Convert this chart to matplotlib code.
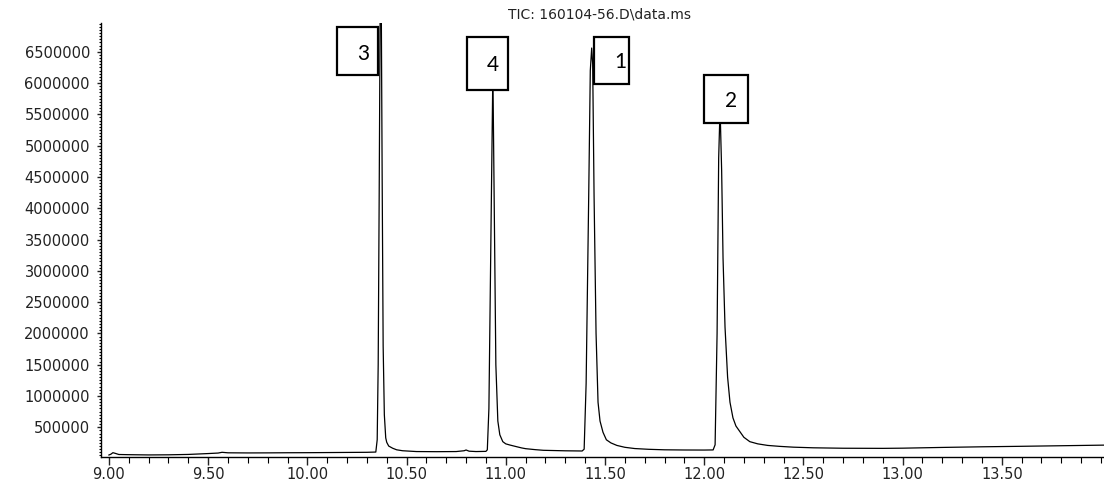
import matplotlib
matplotlib.use("Agg")
import matplotlib.pyplot as plt
from matplotlib.patches import Rectangle
from matplotlib.ticker import MultipleLocator, FixedLocator, FuncFormatter

# ---- data ----
time_min = [
    9.00, 9.01, 9.02, 9.03, 9.05, 9.10, 9.20, 9.30, 9.40, 9.50, 9.55, 9.57, 9.60,
    9.70, 9.80, 9.90, 10.00, 10.10, 10.20, 10.30, 10.345,
    10.352, 10.357, 10.362, 10.367, 10.372, 10.377, 10.382, 10.388, 10.395, 10.40,
    10.41, 10.43, 10.45, 10.48, 10.55, 10.65, 10.75, 10.79, 10.80, 10.815, 10.85,
    10.90, 10.907,
    10.915, 10.925, 10.935, 10.942, 10.95, 10.96, 10.97, 10.985, 11.00, 11.02,
    11.035, 11.054, 11.08, 11.10, 11.15, 11.19, 11.30, 11.385, 11.395,
    11.405, 11.418, 11.426, 11.433, 11.438, 11.445, 11.455, 11.465, 11.475, 11.49,
    11.507, 11.53, 11.56, 11.60, 11.65, 11.72, 11.80, 11.90, 12.00, 12.045, 12.055,
    12.065, 12.073, 12.080, 12.088, 12.095, 12.105, 12.118, 12.13, 12.145, 12.16,
    12.18, 12.20, 12.23, 12.27, 12.32, 12.38, 12.45, 12.55, 12.70, 12.90, 13.00,
    13.20, 13.40, 13.60, 13.80, 14.02,
]
tic_abundance = [
    57000, 70000, 94000, 85000, 65000, 62000, 58000, 60000, 66000, 80000, 88000, 100000, 92000,
    90000, 91000, 93000, 94000, 96000, 98000, 100000, 104000,
    300000, 1500000, 4200000, 7200000, 7600000, 4500000, 1800000, 700000, 330000, 260000,
    200000, 165000, 140000, 125000, 112000, 110000, 112000, 125000, 137000, 118000, 112000,
    115000, 140000,
    800000, 3500000, 6200000, 4000000, 1500000, 600000, 380000, 270000, 235000, 217000,
    205000, 190000, 170000, 158000, 142000, 132000, 124000, 121000, 150000,
    1200000, 4200000, 6200000, 6560000, 6300000, 4200000, 2000000, 900000, 600000, 420000,
    300000, 250000, 210000, 180000, 160000, 148000, 140000, 137000, 136000, 138000, 220000,
    2000000, 4800000, 5600000, 4600000, 3200000, 2100000, 1300000, 900000, 650000, 520000,
    430000, 340000, 270000, 235000, 210000, 195000, 182000, 172000, 165000, 163000, 166000,
    178000, 188000, 196000, 205000, 215000,
]

peak_labels = ["3", "4", "1", "2"]
title_text = "TIC: 160104-56.D\\data.ms"
y_major_ticks = [500000, 1000000, 1500000, 2000000, 2500000, 3000000, 3500000,
                 4000000, 4500000, 5000000, 5500000, 6000000, 6500000]
x_major_ticks = [9.0, 9.5, 10.0, 10.5, 11.0, 11.5, 12.0, 12.5, 13.0, 13.5]

# ---- layout (label boxes: left, bottom, width, height in data units) ----
box_geom = [
    (10.149, 6.129e6, 0.207, 0.767e6),
    (10.805, 5.889e6, 0.207, 0.847e6),
    (11.445, 5.985e6, 0.176, 0.751e6),
    (12.000, 5.362e6, 0.222, 0.767e6),
]
label_pos = [(10.281, 6.47e6), (10.936, 6.29e6), (11.576, 6.33e6), (12.135, 5.72e6)]

W, H = 1104, 493
fig = plt.figure(figsize=(W / 100, H / 100), dpi=100)
ax = fig.add_axes([101 / W, 36 / H, (W - 101) / W, 434 / H])

ax.plot(time_min, tic_abundance, color="black", lw=0.9, zorder=2)

ax.set_xlim(8.96, 14.015)
ax.set_ylim(25000, 6960000)

for s in ["top", "right"]:
    ax.spines[s].set_visible(False)
for s in ["left", "bottom"]:
    ax.spines[s].set_linewidth(1.0)

ax.xaxis.set_major_locator(FixedLocator(x_major_ticks))
ax.xaxis.set_minor_locator(MultipleLocator(0.1))
ax.xaxis.set_major_formatter(FuncFormatter(lambda v, p: f"{v:.2f}"))
ax.yaxis.set_major_locator(FixedLocator(y_major_ticks))
ax.yaxis.set_minor_locator(MultipleLocator(50000))
ax.yaxis.set_major_formatter(FuncFormatter(lambda v, p: f"{int(round(v))}"))

ax.tick_params(axis="x", which="major", direction="out", length=6, width=1.0,
               pad=1.5, labelsize=10.5, colors="#222222")
ax.tick_params(axis="x", which="minor", direction="out", length=4.5, width=0.8)
ax.tick_params(axis="y", which="major", direction="out", length=3, width=1.0,
               pad=5, labelsize=10.5, colors="#222222")
ax.tick_params(axis="y", which="minor", direction="out", length=1.5, width=0.8)

for lab in ax.get_xticklabels() + ax.get_yticklabels():
    lab.set_fontfamily("DejaVu Sans")

fig.text(600 / W, 1 - 14 / H, title_text, ha="center", va="center",
         fontsize=10, family="DejaVu Sans", color="#222222")

for (x0, y0, w, h), lbl, (tx, ty) in zip(box_geom, peak_labels, label_pos):
    ax.add_patch(Rectangle((x0, y0), w, h, facecolor="white", edgecolor="black",
                           lw=1.6, zorder=3, clip_on=False))
    ax.text(tx, ty, lbl, ha="center", va="center", fontsize=15, family="Lato",
            color="black", zorder=4)

fig.savefig("out.png", dpi=100, facecolor="white")
